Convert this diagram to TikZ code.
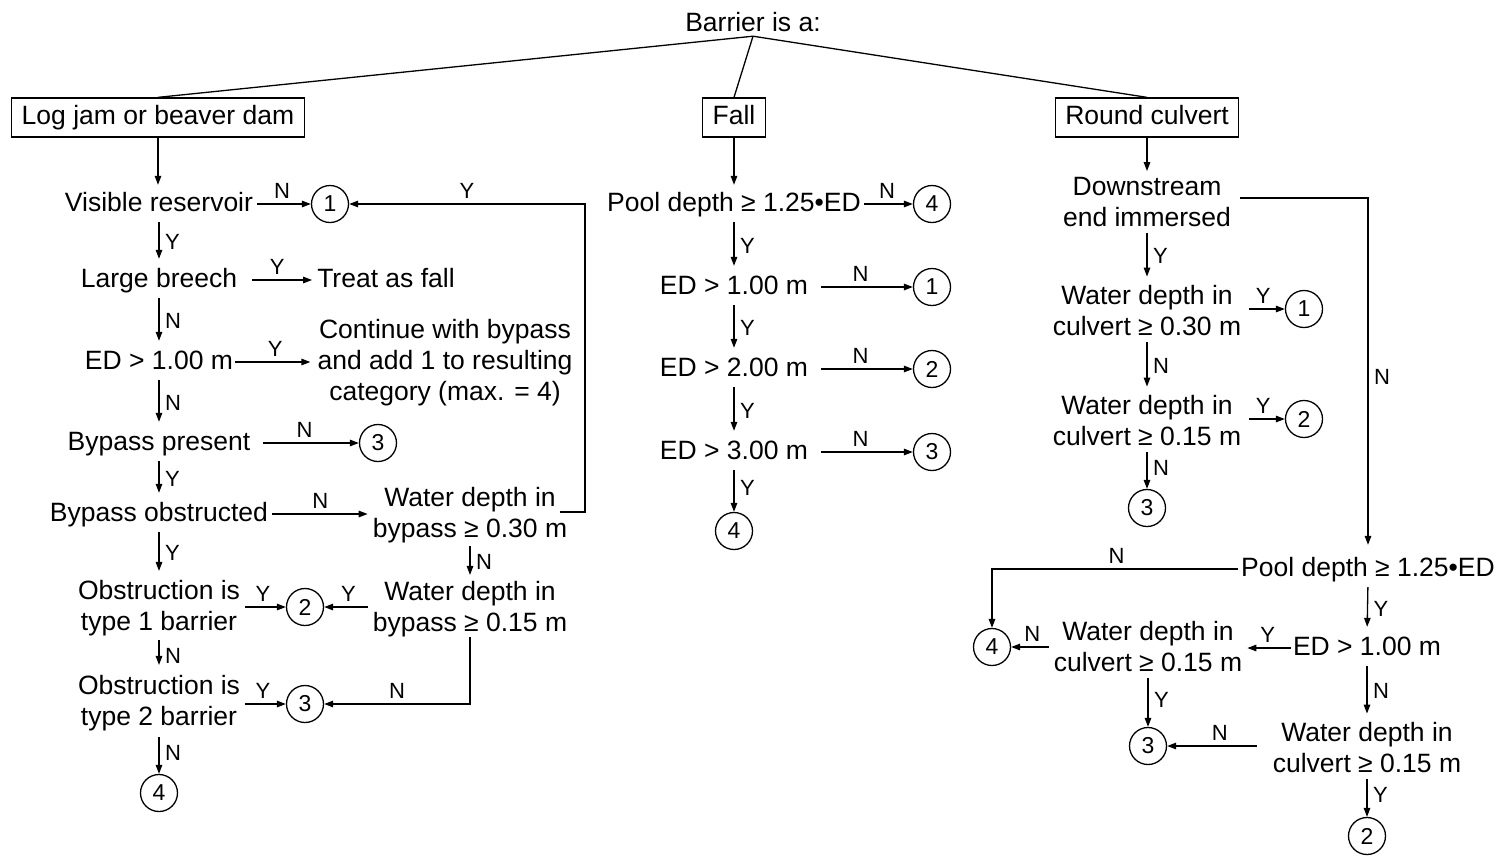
\documentclass[tikz,border=0pt]{standalone}
\usepackage{fontspec}
\setmainfont{Liberation Sans}
\usetikzlibrary{arrows.meta}
\newcommand\mainfs{\fontsize{26.5}{31}\selectfont}
\newcommand\labfs{\fontsize{22}{25}\selectfont}
\newcommand\circfs{\fontsize{23}{28}\selectfont}
\begin{document}
\begin{tikzpicture}[x=1pt,y=-1pt,
  ln/.style={line width=1.3pt},
  arr/.style={ln,-{Triangle[length=9pt,width=6.5pt]}},
  vert/.style={arr, shorten <=6pt, shorten >=9pt},
  vcir/.style={arr, shorten <=6pt},
  tx/.style={font=\mainfs, inner sep=0pt, text height=19pt, text depth=5pt},
  mt/.style={font=\mainfs, inner sep=0pt, align=center},
  box/.style={draw, ln, font=\mainfs, inner xsep=10pt, inner ysep=7.5pt, text height=19pt, text depth=5pt},
  cir/.style={circle, draw, ln, minimum size=37pt, inner sep=0pt, font=\circfs},
  lab/.style={font=\labfs, inner sep=1.5pt},
]
\useasboundingbox (0,0) rectangle (1499,855);

% top
\node[tx] (bar) at (753,24) {Barrier is a:};
\node[box] (b1) at (158,117.5) {Log jam or beaver dam};
\node[box] (b2) at (734,117.5) {Fall};
\node[box] (b3) at (1147,117.5) {Round culvert};
\draw[ln] (bar.south) -- (b1.north);
\draw[ln] (bar.south) -- (b2.north);
\draw[ln] (bar.south) -- (b3.north);

% left column
\node[tx] (vr) at (159,204) {Visible reservoir};
\node[cir] (c1a) at (330,204) {1};
\node[tx] (lb) at (159,280) {Large breech};
\node[tx] (taf) at (386,280) {Treat as fall};
\node[tx] (ed1) at (159,362) {ED > 1.00 m};
\node[mt] (cont) at (445,363) {Continue with bypass\\and add 1 to resulting\\category (max. = 4)};
\node[tx] (bp) at (159,443) {Bypass present};
\node[cir] (c3a) at (378,443) {3};
\node[tx] (bo) at (159,514) {Bypass obstructed};
\node[mt] (wd30) at (470,515) {Water depth in\\bypass ≥ 0.30 m};
\node[mt] (wd15) at (470,609) {Water depth in\\bypass ≥ 0.15 m};
\node[cir] (c2a) at (305,607) {2};
\node[mt] (ob1) at (159,608) {Obstruction is\\type 1 barrier};
\node[mt] (ob2) at (159,703) {Obstruction is\\type 2 barrier};
\node[cir] (c3b) at (305,704) {3};
\node[cir] (c4a) at (159,793) {4};

\draw[arr, shorten >=7pt] (b1.south) -- (b1.south |- vr.north);
\draw[arr, shorten <=4pt] (vr.east) -- node[lab,above=3pt]{N} (c1a.west);
\draw[vert] (vr.south) -- node[lab,right=4pt]{Y} (lb.north);
\draw[arr, shorten <=15pt, shorten >=5pt] (lb.east) -- node[lab,above=3pt]{Y} (taf.west);
\draw[vert] (lb.south) -- node[lab,right=4pt]{N} (ed1.north);
\draw[arr, shorten <=2pt, shorten >=7pt] (ed1.east) -- node[lab,above=3pt]{Y} (ed1.east -| cont.west);
\draw[vert] (ed1.south) -- node[lab,right=4pt]{N} (bp.north);
\draw[arr, shorten <=12pt] (bp.east) -- node[lab,above=3pt]{N} (c3a.west);
\draw[vert] (bp.south) -- node[lab,right=4pt]{Y} (bo.north);
\draw[arr, shorten <=4pt, shorten >=5pt] (bo.east) -- node[lab,above=3pt]{N} (bo.east -| wd30.west);
\coordinate (lp) at (585,204);
\draw[arr] ([xshift=-7pt,yshift=3pt]wd30.east) -| (lp) -- node[lab,above=3pt]{Y} (c1a.east);
\draw[arr, shorten <=3pt, shorten >=6pt] (wd30.south) -- node[lab,right=4pt]{N} (wd15.north);
\draw[arr, shorten <=5pt] ([yshift=2pt]wd15.west) -- node[lab,above=3pt]{Y} (c2a.east);
\draw[arr] (wd15.south) |- node[lab,above=3pt,pos=0.75]{N} (c3b.east);
\draw[vert] (bo.south) -- node[lab,right=4pt]{Y} (ob1.north);
\draw[arr, shorten <=5pt] ([yshift=1pt]ob1.east) -- node[lab,above=3pt]{Y} (c2a.west);
\draw[arr, shorten <=4pt, shorten >=10pt] (ob1.south) -- node[lab,right=4pt]{N} (ob2.north);
\draw[arr, shorten <=5pt] ([yshift=-1pt]ob2.east) -- node[lab,above=3pt]{Y} (c3b.west);
\draw[vcir] (ob2.south) -- node[lab,right=4pt]{N} (c4a.north);

% middle column
\node[tx] (pd1) at (734,204) {Pool depth ≥ 1.25•ED};
\node[cir] (c4b) at (932,204) {4};
\node[tx] (m1) at (734,287) {ED > 1.00 m};
\node[cir] (c1b) at (932,287) {1};
\node[tx] (m2) at (734,369) {ED > 2.00 m};
\node[cir] (c2b) at (932,369) {2};
\node[tx] (m3) at (734,452) {ED > 3.00 m};
\node[cir] (c3c) at (932,452) {3};
\node[cir] (c4c) at (734,531) {4};

\draw[arr, shorten >=7pt] (b2.south) -- (pd1.north);
\draw[arr, shorten <=3pt] (pd1.east) -- node[lab,above=3pt]{N} (c4b.west);
\draw[vert] (pd1.south) -- node[lab,right=4pt]{Y} (m1.north);
\draw[arr, shorten <=13pt] (m1.east) -- node[lab,above=3pt]{N} (c1b.west);
\draw[vert] (m1.south) -- node[lab,right=4pt]{Y} (m2.north);
\draw[arr, shorten <=13pt] (m2.east) -- node[lab,above=3pt]{N} (c2b.west);
\draw[vert] (m2.south) -- node[lab,right=4pt]{Y} (m3.north);
\draw[arr, shorten <=13pt] (m3.east) -- node[lab,above=3pt]{N} (c3c.west);
\draw[vcir] (m3.south) -- node[lab,right=4pt]{Y} (c4c.north);

% right column
\node[mt] (ds) at (1147,202) {Downstream\\end immersed};
\node[mt] (wc30) at (1147,311) {Water depth in\\culvert ≥ 0.30 m};
\node[cir] (c1c) at (1304,309) {1};
\node[mt] (wc15a) at (1147,421) {Water depth in\\culvert ≥ 0.15 m};
\node[cir] (c2c) at (1304,419) {2};
\node[cir] (c3d) at (1147,508) {3};
\node[tx] (pd2) at (1368,569) {Pool depth ≥ 1.25•ED};
\node[tx] (ed2) at (1367,648) {ED > 1.00 m};
\node[mt] (wc15b) at (1148,647) {Water depth in\\culvert ≥ 0.15 m};
\node[cir] (c4d) at (992,647) {4};
\node[cir] (c3e) at (1148,746) {3};
\node[mt] (wc15c) at (1367,748) {Water depth in\\culvert ≥ 0.15 m};
\node[cir] (c2d) at (1367,836) {2};

\draw[arr, shorten >=6pt] (b3.south) -- (ds.north);
\draw[arr, shorten <=9pt, shorten >=12pt] ([yshift=4pt]ds.east) -| node[lab,right=4pt,pos=0.75]{N} (pd2.north);
\draw[vert] (ds.south) -- node[lab,right=4pt]{Y} (wc30.north);
\draw[arr, shorten <=8pt] ([yshift=2pt]wc30.east) -- node[lab,above=3pt]{Y} (c1c.west);
\draw[vert] (wc30.south) -- node[lab,right=4pt]{N} (wc15a.north);
\draw[arr, shorten <=8pt] ([yshift=2pt]wc15a.east) -- node[lab,above=3pt]{Y} (c2c.west);
\draw[vcir] (wc15a.south) -- node[lab,right=4pt]{N} (c3d.north);
\draw[arr, shorten <=3pt] (pd2.west) -| node[lab,above=3pt,pos=0.25]{N} (c4d.north);
\draw[vert] (pd2.south) -- node[lab,right=4pt]{Y} (ed2.north);
\draw[arr, shorten <=2pt, shorten >=5pt] (ed2.west) -- node[lab,above=3pt]{Y} (ed2.west -| wc15b.east);
\draw[arr, shorten <=5pt] (wc15b.west) -- node[lab,above=3pt]{N} (c4d.east);
\draw[vcir] (wc15b.south) -- node[lab,right=4pt]{Y} (c3e.north);
\draw[vert] (ed2.south) -- node[lab,right=4pt]{N} (wc15c.north);
\draw[arr, shorten <=16pt] ([yshift=2pt]wc15c.west) -- node[lab,above=3pt]{N} (c3e.east);
\draw[vcir] (wc15c.south) -- node[lab,right=4pt]{Y} (c2d.north);
\end{tikzpicture}
\end{document}
